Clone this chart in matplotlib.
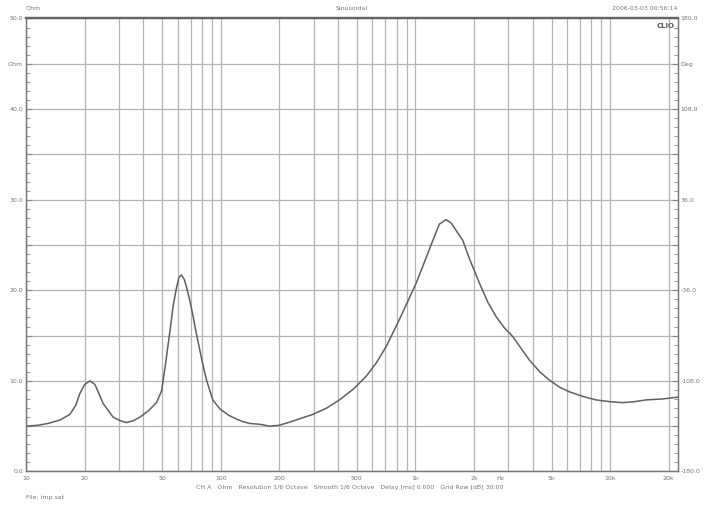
import numpy as np
from matplotlib import pyplot as plt
from matplotlib.ticker import LogLocator, NullFormatter, FixedLocator, MultipleLocator

# impedance curve (Hz, Ohm)
freq = [10, 11.5, 13, 15, 16.8, 18.0, 18.9, 20.0, 21.3, 22.6, 24.9, 28, 30.5, 32.8, 35.5,
        38.5, 42.5, 46.8, 49.7, 52, 54.7, 57, 59.3, 61, 62.8, 65, 67, 69.3, 72, 75, 80,
        84.5, 91, 99, 110, 120, 130, 141, 160, 178, 200, 230, 297, 350, 407, 480, 558,
        630, 708, 828, 910, 1009, 1135, 1228, 1327, 1436, 1530, 1617, 1750, 1892, 2130,
        2350, 2593, 2850, 3157, 3845, 4350, 4865, 5500, 6163, 7200, 8450, 10000, 11600,
        13300, 15240, 18500, 22130]
ohm = [5.0, 5.1, 5.3, 5.7, 6.3, 7.3, 8.6, 9.6, 10.0, 9.6, 7.5, 6.0, 5.6, 5.4, 5.6,
       6.0, 6.7, 7.6, 8.9, 11.8, 15.3, 18.3, 20.3, 21.4, 21.7, 21.2, 20.2, 18.9, 17.2, 15.2, 12.3,
       10.1, 7.9, 6.9, 6.2, 5.8, 5.5, 5.3, 5.2, 5.0, 5.1, 5.5, 6.3, 7.0, 7.9, 9.1, 10.5,
       12.0, 13.8, 16.8, 18.7, 20.8, 23.6, 25.5, 27.3, 27.8, 27.4, 26.6, 25.5, 23.5, 20.8,
       18.7, 17.1, 15.9, 14.9, 12.3, 11.0, 10.1, 9.3, 8.8, 8.3, 7.9, 7.7, 7.6,
       7.7, 7.9, 8.0, 8.2]

x_ticks = [10, 20, 50, 100, 200, 500, 1000, 2000, 5000, 10000, 20000]
x_labels = ['10', '20', '50', '100', '200', '500', '1k', '2k', '5k', '10k', '20k']
y_ticks = [0, 5, 10, 15, 20, 25, 30, 35, 40, 45, 50]
left_labels = ['0.0', '', '10.0', '', '20.0', '', '30.0', '', '40.0', 'Ohm', '50.0']
right_labels = ['-180.0', '', '-108.0', '', '-36.0', '', '36.0', '', '108.0', 'Deg', '180.0']

txt = '#777777'
grid_c = '#b4b4b4'

fig = plt.figure(figsize=(7.05, 5.08), dpi=100)
ax = fig.add_axes([0.0369, 0.0719, 0.9248, 0.8917])

ax.plot(freq, ohm, color='#606060', lw=1.1, zorder=3)

ax.set_xscale('log')
ax.set_xlim(10, 22300)
ax.set_ylim(0, 50)

ax.xaxis.set_major_locator(FixedLocator(x_ticks))
ax.set_xticklabels(x_labels)
ax.xaxis.set_minor_locator(LogLocator(base=10, subs=np.arange(2, 10)))
ax.xaxis.set_minor_formatter(NullFormatter())
ax.tick_params(axis='x', which='both', length=0, labelsize=4.5, labelcolor=txt, pad=3)

ax.set_yticks(y_ticks)
ax.set_yticklabels(left_labels)
ax.yaxis.set_minor_locator(MultipleLocator(1))
ax.tick_params(axis='y', which='both', direction='in', labelsize=4.5, labelcolor=txt,
               color='#888888', pad=2)
ax.tick_params(axis='y', which='major', length=4)
ax.tick_params(axis='y', which='minor', length=3)

ax.grid(True, which='both', axis='x', color=grid_c, lw=0.9)
ax.grid(True, which='major', axis='y', color=grid_c, lw=0.9)
ax.set_axisbelow(True)

ax2 = ax.twinx()
ax2.set_ylim(0, 50)
ax2.set_yticks(y_ticks)
ax2.set_yticklabels(right_labels)
ax2.yaxis.set_minor_locator(MultipleLocator(1))
ax2.tick_params(axis='y', which='both', direction='in', labelsize=4.5, labelcolor=txt,
                color='#888888', pad=2)
ax2.tick_params(axis='y', which='major', length=4)
ax2.tick_params(axis='y', which='minor', length=3)

for a in (ax, ax2):
    for s in a.spines.values():
        s.set_color('#777777')
        s.set_linewidth(0.9)
    a.spines['top'].set_linewidth(1.6)
    a.spines['top'].set_color('#666666')

ax.text(0.727, -0.009, 'Hz', transform=ax.transAxes, ha='center', va='top',
        fontsize=4.5, color=txt)
ax.text(0.995, 0.99, 'CLIO', transform=ax.transAxes, ha='right', va='top',
        fontsize=5, color='#555555', fontweight='bold')

fig.text(26 / 705, 1 - 8 / 508, 'Ohm', ha='left', va='center', fontsize=4.5, color=txt)
fig.text(352 / 705, 1 - 8 / 508, 'Sinusoidal', ha='center', va='center', fontsize=4.5, color=txt)
fig.text(678 / 705, 1 - 8 / 508, '2006-03-03 00:56:14', ha='right', va='center',
         fontsize=4.5, color=txt)
fig.text(350 / 705, 1 - 487 / 508,
         'CH A   Ohm   Resolution 1/6 Octave   Smooth 1/6 Octave   Delay [ms] 0.000   Grid Row [dB] 30:00',
         ha='center', va='center', fontsize=4.5, color=txt)
fig.text(26 / 705, 1 - 497 / 508, 'File: imp.sat', ha='left', va='center', fontsize=4.5, color=txt)

fig.savefig('out.png', dpi=100, facecolor='white')
